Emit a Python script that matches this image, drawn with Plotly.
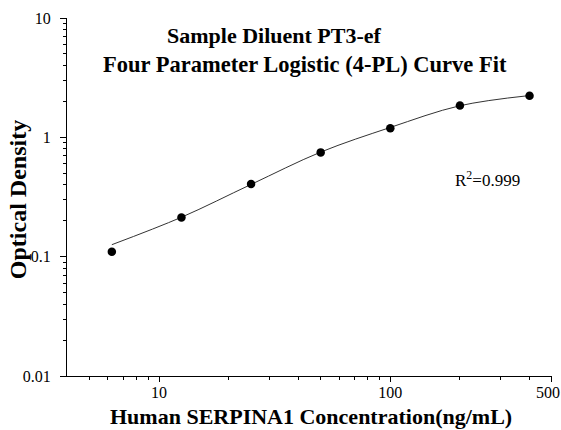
import plotly.graph_objects as go

# Data
concentration = [6.25, 12.5, 25, 50, 100, 200, 400]
optical_density = [0.110, 0.213, 0.406, 0.748, 1.19, 1.85, 2.23]

# Fitted 4-PL curve
curve_x = [6.25, 12.5, 25, 50, 100, 200, 400]
curve_y = [0.126, 0.214, 0.403, 0.752, 1.21, 1.84, 2.24]

y_tickvals = [0.01, 0.1, 1, 10]
y_ticktext = ["0.01", "0.1", "1", "10"]
y_minor = [m * d for d in (0.01, 0.1, 1) for m in range(2, 10)]
x_tickvals = [10, 100, 500]
x_ticktext = ["10", "100", "500\u00a0\u00a0"]
x_minor = [5, 6, 7, 8, 9, 20, 30, 40, 50, 60, 70, 80, 90, 200, 300, 400]

title_line1 = "Sample Diluent PT3-ef"
title_line2 = "Four Parameter Logistic (4-PL) Curve Fit"
r2_text = "R<sup>2</sup>=0.999"
x_title = "Human SERPINA1 Concentration(ng/mL)"
y_title = "Optical Density"

SERIF = "Liberation Serif"

FIG_W, FIG_H = 561, 430

# plot area in page pixels (for placing annotations)
L, R, T, B = 67, 552, 18, 375.7
W, H = R - L, B - T


def px(x):
    return (x - L) / W


def py(y):
    return (B - y) / H


fig = go.Figure()
fig.add_trace(go.Scatter(
    x=curve_x, y=curve_y, mode="lines",
    line=dict(color="#333333", width=1, shape="spline", smoothing=1.0),
    hoverinfo="skip", showlegend=False,
))
fig.add_trace(go.Scatter(
    x=concentration, y=optical_density, mode="markers",
    marker=dict(color="black", size=8.5),
    showlegend=False,
))

fig.update_layout(
    width=FIG_W, height=FIG_H,
    margin=dict(l=L, r=FIG_W - R, t=T, b=FIG_H - B, autoexpand=False),
    paper_bgcolor="white", plot_bgcolor="white",
    font=dict(family=SERIF, color="black", size=16),
    xaxis=dict(
        type="log", range=[0.602, 2.6992], automargin=False,
        showgrid=False, zeroline=False,
        showline=True, linecolor="black", linewidth=1,
        ticks="outside", ticklen=5, tickcolor="black", tickwidth=1,
        tickvals=x_tickvals, ticktext=x_ticktext,
        tickfont=dict(family=SERIF, size=16, color="black"),
        ticklabelstandoff=-3, ticklabeloverflow="allow",
        minor=dict(ticks="outside", ticklen=3, tickcolor="black", tickwidth=1,
                   tickvals=x_minor, showgrid=False),
    ),
    yaxis=dict(
        type="log", range=[-2, 1], automargin=False,
        showgrid=False, zeroline=False,
        showline=True, linecolor="black", linewidth=1,
        ticks="outside", ticklen=6, tickcolor="black", tickwidth=1,
        tickvals=y_tickvals, ticktext=y_ticktext,
        tickfont=dict(family=SERIF, size=16, color="black"),
        ticklabelstandoff=6, ticklabeloverflow="allow",
        minor=dict(ticks="outside", ticklen=3, tickcolor="black", tickwidth=1,
                   tickvals=y_minor, showgrid=False),
    ),
    annotations=[
        dict(text="<b>" + title_line1 + "</b>", xref="paper", yref="paper",
             x=px(274), y=py(35), showarrow=False,
             xanchor="center", yanchor="middle",
             font=dict(family=SERIF, size=22, color="black")),
        dict(text="<b>" + title_line2 + "</b>", xref="paper", yref="paper",
             x=px(305), y=py(64), showarrow=False,
             xanchor="center", yanchor="middle",
             font=dict(family=SERIF, size=22.5, color="black")),
        dict(text=r2_text, xref="paper", yref="paper",
             x=px(487), y=py(179), showarrow=False,
             xanchor="center", yanchor="middle",
             font=dict(family=SERIF, size=17, color="black")),
        dict(text="<b>" + x_title + "</b>", xref="paper", yref="paper",
             x=px(311), y=py(416), showarrow=False,
             xanchor="center", yanchor="middle",
             font=dict(family=SERIF, size=22, color="black")),
        dict(text="<b>" + y_title + "</b>", xref="paper", yref="paper",
             x=px(18), y=py(200), showarrow=False, textangle=-90,
             xanchor="center", yanchor="middle",
             font=dict(family=SERIF, size=24, color="black")),
    ],
)

fig.write_html(
    "out.html",
    config={"displayModeBar": False},
    post_script="document.body.style.margin='0';document.body.style.overflow='hidden';",
)
